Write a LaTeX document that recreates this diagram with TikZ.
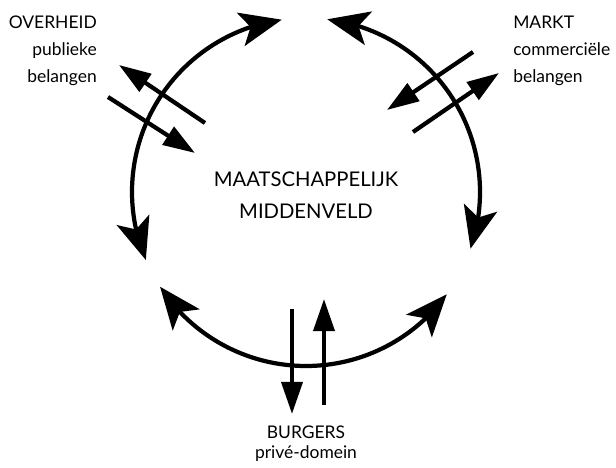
\documentclass[tikz,border=0pt]{standalone}
\usepackage{fontspec}
\setmainfont{Lato}
\usetikzlibrary{arrows.meta,bending,calc}

\begin{document}
\begin{tikzpicture}[x=0.025cm,y=0.025cm,
    ring/.style={line width=3pt,
        {Stealth[length=1.05cm,width=0.85cm,inset=0.25cm]}-{Stealth[length=1.05cm,width=0.85cm,inset=0.25cm]}},
    flow/.style={line width=3pt,-{Triangle[length=0.8cm,width=0.52cm]}},
    lbl/.style={inner sep=0pt,font=\fontsize{12.4}{19.2}\selectfont}]
        \useasboundingbox (0,0) rectangle (616,467);
        \coordinate (c) at (306,275);
        %% three arcs round the middle field
        \foreach \a/\b in {98/203,83/-19,213/324}
            \draw[ring] ($(c)+(\a:174)$) arc[start angle=\a,end angle=\b,radius=174];
        %% government
        \coordinate (ovA) at (205,344); \coordinate (ovB) at (119,402);
        \coordinate (ovC) at (108,370); \coordinate (ovD) at (195,314);
        \draw[flow] (ovA) -- (ovB);
        \draw[flow] (ovC) -- (ovD);
        %% market
        \coordinate (mkA) at (473,415); \coordinate (mkB) at (387,357);
        \coordinate (mkC) at (413,335); \coordinate (mkD) at (499,394);
        \draw[flow] (mkA) -- (mkB);
        \draw[flow] (mkC) -- (mkD);
        %% citizens
        \coordinate (bgA) at (292,158); \coordinate (bgB) at (292,53);
        \coordinate (bgC) at (324,62); \coordinate (bgD) at (324,168);
        \draw[flow] (bgA) -- (bgB);
        \draw[flow] (bgC) -- (bgD);
        %% labels (base = last line)
        \node[lbl,align=right,anchor=base east] (overheid) at (97,384) {OVERHEID\\publieke\\belangen};
        \node[lbl,align=left,anchor=base west] (markt) at (513,384) {MARKT\\commerciële\\belangen};
        \node[lbl,align=center,anchor=base,font=\fontsize{14.4}{22.8}\selectfont] (veld) at (306,248) {MAATSCHAPPELIJK\\MIDDENVELD};
        \node[lbl,align=center,anchor=base,font=\fontsize{12.4}{14.2}\selectfont] (burgers) at (306,9) {BURGERS\\privé-domein};
    \end{tikzpicture}
\end{document}
